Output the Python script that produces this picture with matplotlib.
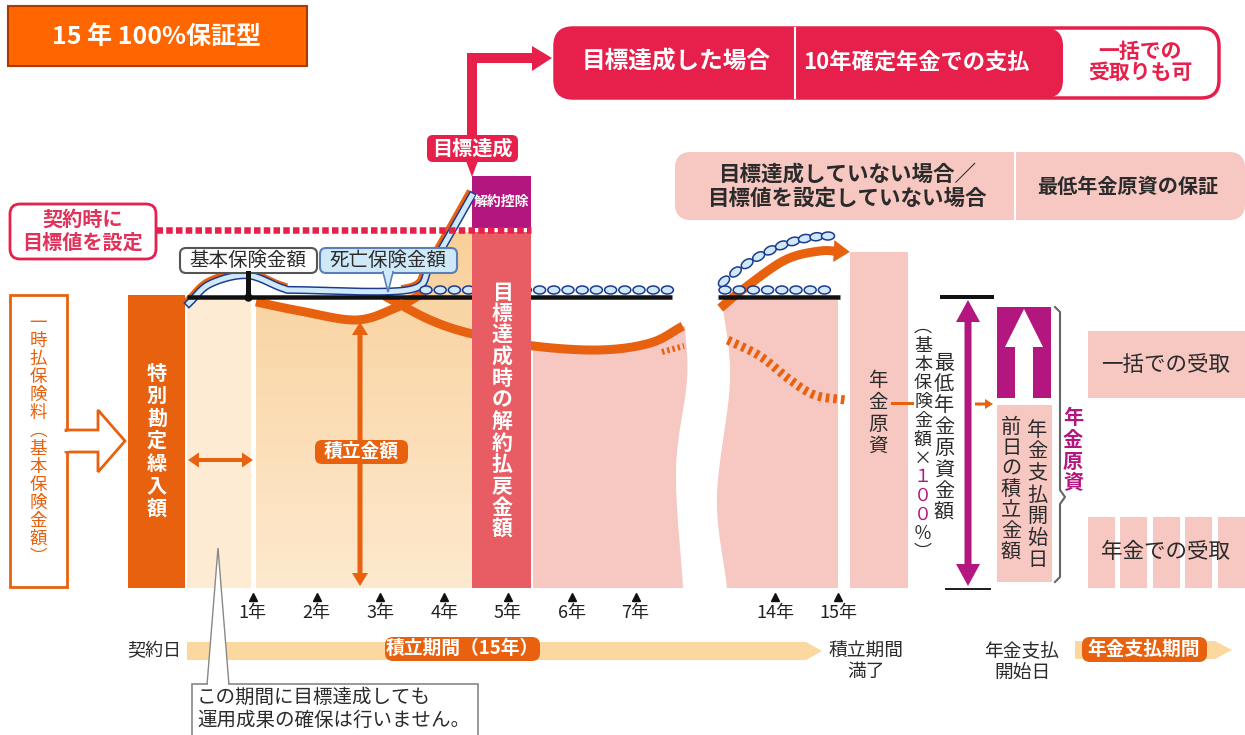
import numpy as np
import matplotlib
matplotlib.use("Agg")
import matplotlib.pyplot as plt
from matplotlib.patches import Rectangle, FancyBboxPatch, Polygon, Ellipse

plt.rcParams['font.family'] = ['Noto Sans CJK JP', 'DejaVu Sans']

# ---- data ----
title = "15 年 100%保証型"
tick_years = [1, 2, 3, 4, 5, 6, 7, 14, 15]
tick_labels = [f"{y}年" for y in tick_years]
target_pct = 123          # 目標値 (% of 基本保険金額)

# death benefit band (year, % of base)
death_yr = [0, 0.33, 0.91, 1.46, 1.74, 3.43, 3.77, 4.11, 4.43]
death_pct = [97.9, 104.5, 107.5, 103.1, 102.4, 102.4, 110.0, 122.3, 134.7]
# accumulation value, two schematic paths
acc_a_yr = [1.05, 1.74, 2.62, 3.23, 3.70]
acc_a_pct = [98.3, 95.2, 92.1, 96.2, 101.7]
acc_b_yr = [3.07, 3.78, 4.44, 5.39, 6.44, 7.23, 7.74]
acc_b_pct = [100.3, 92.1, 87.3, 83.2, 81.8, 84.2, 90.0]
# end of accumulation period
up_yr = [13.13, 13.52, 14.16, 14.71, 15.06]
up_pct = [96.2, 103.1, 112.7, 115.8, 115.5]
down_yr = [13.25, 13.76, 14.24, 14.63, 15.11]
down_pct = [85.2, 79.7, 71.5, 66.3, 64.6]

RED = '#E61F4B'
ORANGE = '#E8610F'
TITLE_OR = '#FF6600'
PINK = '#F7C7C1'
PEACH_L = '#FDEBD4'
PURPLE = '#B3177F'
NAVY = '#1D3A8F'
SKY = '#CFE9F8'
DARK = '#2B2B2B'
BAND = '#FBD89F'
COLRED = '#E85C63'
PT = 0.72  # points per pixel


def year_x(yr):
    yr = np.asarray(yr, float)
    return np.where(yr <= 10, 189 + 63.8 * yr, 838 - 63 * (15 - yr))


def pct_y(p):
    return 588 - 2.91 * np.asarray(p, float)


def smooth(xs, ys, n=16):
    pts = np.column_stack([xs, ys]).astype(float)
    p = np.vstack([2 * pts[0] - pts[1], pts, 2 * pts[-1] - pts[-2]])
    out = []
    for i in range(1, len(p) - 2):
        p0, p1, p2, p3 = p[i - 1], p[i], p[i + 1], p[i + 2]
        for t in np.linspace(0, 1, n, endpoint=False):
            out.append(0.5 * (2 * p1 + (-p0 + p2) * t + (2 * p0 - 5 * p1 + 4 * p2 - p3) * t * t
                              + (-p0 + 3 * p1 - 3 * p2 + p3) * t ** 3))
    out.append(pts[-1])
    out = np.array(out)
    return out[:, 0], out[:, 1]


fig = plt.figure(figsize=(12.45, 7.35), dpi=100)
ax = fig.add_axes([0, 0, 1, 1])
ax.set_xlim(0, 1245)
ax.set_ylim(735, 0)
ax.axis('off')


def box(x0, y0, x1, y1, fc, ec='none', lw=0, r=0, z=2):
    if r > 0:
        p = FancyBboxPatch((x0, y0), x1 - x0, y1 - y0, boxstyle=f"round,pad=0,rounding_size={r}",
                           fc=fc, ec=ec, lw=lw, zorder=z)
    else:
        p = Rectangle((x0, y0), x1 - x0, y1 - y0, fc=fc, ec=ec, lw=lw, zorder=z)
    ax.add_patch(p)
    return p


def txt(x, y, s, size, color=DARK, weight='normal', ha='center', va='center', z=12, ls=1.2):
    ax.text(x, y, s, fontsize=size, color=color, fontweight=weight, ha=ha, va=va,
            zorder=z, linespacing=ls)


def vtxt(x, y0, s, step, size, color=DARK, weight='normal', z=12, colors=None):
    for i, ch in enumerate(s):
        c = colors[i] if colors else color
        ax.text(x, y0 + i * step, ch, fontsize=size, color=c, fontweight=weight,
                ha='center', va='center', zorder=z)


def arrow_poly(x0, y0, x1, y1, w, hw, hl, head0=False):
    d = np.array([x1 - x0, y1 - y0], float)
    u = d / np.hypot(*d)
    n = np.array([-u[1], u[0]])
    a = np.array([x0, y0], float)
    b = np.array([x1, y1], float)
    pts = []
    if head0:
        pts += [a, a + u * hl + n * hw / 2, a + u * hl + n * w / 2]
    else:
        pts += [a + n * w / 2]
    pts += [b - u * hl + n * w / 2, b - u * hl + n * hw / 2, b,
            b - u * hl - n * hw / 2, b - u * hl - n * w / 2]
    if head0:
        pts += [a + u * hl - n * w / 2, a + u * hl - n * hw / 2]
    else:
        pts += [a - n * w / 2]
    return np.array(pts)


# ---- title ----
box(8, 6, 307, 66, TITLE_OR, ec='#A83C00', lw=1.5)
txt(157, 37, title, 18, 'white', 'bold')

# ---- top: target reached ----
box(555, 28, 1219, 98, 'white', ec=RED, lw=2.5, r=18, z=3)
box(555, 28, 1063, 98, RED, r=18, z=4)
ax.plot([795, 795], [28, 98], color='white', lw=1.5, zorder=5)
txt(676, 62, "目標達成した場合", 17, 'white', 'bold')
txt(916, 62, "10年確定年金での支払", 16, 'white', 'bold')
txt(1140, 62, "一括での\n受取りも可", 15, RED, 'bold', ls=1.05)

ax.plot([472, 472, 536], [136, 58, 58], color=RED, lw=10 * PT, solid_joinstyle='miter',
        solid_capstyle='butt', zorder=4)
ax.add_patch(Polygon([(532, 46), (552, 58), (532, 71)], fc=RED, ec='none', zorder=4))
box(427, 135, 518, 162, RED, r=6, z=5)
ax.add_patch(Polygon([(466, 161), (478, 161), (472, 177)], fc=RED, ec='none', zorder=5))
txt(472, 148, "目標達成", 14.5, 'white', 'bold')

box(472, 176, 531, 228, PURPLE, z=6)
txt(501, 202, "解約控除", 10, 'white', 'bold')

# ---- target line ----
ty = float(pct_y(target_pct))
ax.plot([156, 531], [ty, ty], color=RED, lw=6.5 * PT, dashes=(1.0, 0.5), zorder=9)
box(10, 204, 156, 259, 'white', ec=RED, lw=2, r=10, z=6)
txt(83, 231, "契約時に\n目標値を設定", 14.5, '#E0325A', 'bold', ls=1.1)

# ---- not reached ----
box(675, 152, 1245, 220, PINK, r=16, z=3)
ax.plot([1015, 1015], [152, 220], color='white', lw=1.5, zorder=4)
txt(848, 186, "目標達成していない場合／\n目標値を設定していない場合", 15.5, DARK, 'bold', ls=1.15)
txt(1128, 186, "最低年金原資の保証", 14.5, DARK, 'bold')

# ---- premium ----
box(10, 295, 67, 587, 'white', ec=ORANGE, lw=2, z=4)
ax.add_patch(Polygon([(66, 430), (98, 430), (98, 410), (125, 441), (98, 472), (98, 452), (66, 452)],
                     fc='white', ec=ORANGE, lw=2, zorder=4))
box(64, 431.5, 69, 450.5, 'white', z=5)
vtxt(38, 323, "一時払保険料︵基本保険金額︶", 18, 12.6, ORANGE)

box(128, 295, 185, 588, ORANGE, z=4)
vtxt(157, 373, "特別勘定繰入額", 22.5, 14.5, 'white', 'bold')

# ---- accumulation area ----
box(187, 300, 251, 588, PEACH_L, z=1)

dx, dy = smooth(year_x(death_yr), pct_y(death_pct))
ax_, ay_ = smooth(year_x(acc_a_yr), pct_y(acc_a_pct))
bx, by = smooth(year_x(acc_b_yr), pct_y(acc_b_pct))

band_sel = (dx >= 408) & (dy >= 232)
verts = [(256, 588), (472, 588), (472, 232)]
verts += list(zip(dx[band_sel][::-1], dy[band_sel][::-1]))
a_sel = ax_ <= 400
verts += list(zip(ax_[a_sel][::-1], ay_[a_sel][::-1]))
clip = Polygon(verts, fc='none', ec='none', transform=ax.transData)
ax.add_patch(clip)
grad = np.linspace(0, 1, 100)[:, None, None]
top_c = np.array([249, 208, 154]) / 255
bot_c = np.array([253, 233, 206]) / 255
img = top_c * (1 - grad) + bot_c * grad
im = ax.imshow(img, extent=(256, 472, 588, 232), aspect='auto', zorder=1, interpolation='bilinear')
im.set_clip_path(clip)

box(472, 232, 531, 588, COLRED, z=8.5)
vtxt(502, 292, "目標達成時の解約払戻金額", 21.6, 15, 'white', 'bold')

# pink area after target year (below curve B)
b_sel = bx >= 531
rx, ry = smooth([685, 687, 676, 683], [by[-1], 380, 470, 588])
verts = list(zip(bx[b_sel], by[b_sel])) + list(zip(rx, ry)) + [(533, 588)]
ax.add_patch(Polygon(verts, fc=PINK, ec='none', zorder=1))
lx, ly = smooth([722, 730, 717, 727], [300, 380, 497, 588])
verts = list(zip(lx, ly)) + [(838, 588), (838, 300)]
ax.add_patch(Polygon(verts, fc=PINK, ec='none', zorder=1))
box(850, 252, 908, 588, PINK, z=1)
vtxt(878, 380, "年金原資", 22, 14, DARK)

# accumulation curves
ax.plot(ax_, ay_, color=ORANGE, lw=9 * PT, zorder=5, solid_capstyle='butt')
ax.plot(bx, by, color=ORANGE, lw=9 * PT, zorder=3, solid_capstyle='butt')
ax.plot([662, 684], [352, 346], color=ORANGE, lw=6 * PT, dashes=(0.4, 0.5), zorder=3)

ux, uy = smooth(year_x(up_yr), pct_y(up_pct))
ax.plot(ux[:-3], uy[:-3], color=ORANGE, lw=9 * PT, zorder=5, solid_capstyle='butt')
ax.add_patch(Polygon(arrow_poly(ux[-8], uy[-8], ux[-1] + 8, uy[-1], 9, 22, 16),
                     fc=ORANGE, ec='none', zorder=5))
wx, wy = smooth(year_x(down_yr), pct_y(down_pct))
ax.plot(wx, wy, color=ORANGE, lw=9 * PT, dashes=(0.4, 0.45), zorder=5)

# death benefit band
o1 = dx <= 285
o2 = dx >= 405
ax.plot(dx[o1] - 1, dy[o1] - 3, color=ORANGE, lw=7 * PT, zorder=6)
ax.plot(dx[o2] - 3, dy[o2] - 2, color=ORANGE, lw=7 * PT, zorder=6)
ax.plot(dx, dy, color=NAVY, lw=8 * PT, zorder=6)
ax.plot(dx, dy, color=SKY, lw=5 * PT, zorder=6)

# base line and chains
base = float(pct_y(100))
ax.plot([187, 672], [base, base], color='#111', lw=4.5 * PT, solid_capstyle='butt', zorder=7)
ax.plot([718, 840], [base, base], color='#111', lw=4.5 * PT, solid_capstyle='butt', zorder=7)
for cx in list(np.arange(426, 672, 14.2)) + list(np.arange(725, 838, 14.2)):
    ax.add_patch(Ellipse((cx, base - 7), 12, 8, fc=SKY, ec=NAVY, lw=1.1, zorder=8))
cxs = np.linspace(724, 828, 10)
cys = 236 + 47 * ((830 - cxs) / 108) ** 2
for cx, cy in zip(cxs, cys):
    s = -2 * 47 * (830 - cx) / 108 ** 2
    ax.add_patch(Ellipse((cx, cy), 13, 8, angle=np.degrees(np.arctan(s)), fc=SKY, ec=NAVY,
                         lw=1.1, zorder=8))

# labels on top
box(180, 248, 317, 273, 'white', ec='#555555', lw=1.5, r=6, z=9)
txt(248, 260, "基本保険金額", 14, DARK)
ax.plot([248, 248], [273, 296], color='#111', lw=5 * PT, zorder=9)
ax.plot([248], [297], 'o', color='#111', ms=7 * PT, zorder=9)
box(320, 248, 457, 273, SKY, ec='#5A7FB8', lw=1.5, r=6, z=9)
ax.add_patch(Polygon([(383, 272), (393, 272), (388, 292)], fc=SKY, ec='#5A7FB8', lw=1.2, zorder=9))
box(384, 270.5, 392, 274, SKY, z=10)
txt(388, 260, "死亡保険金額", 14, DARK)

# arrows in accumulation area
ax.add_patch(Polygon(arrow_poly(188, 460, 253, 460, 4, 15, 11, head0=True), fc=ORANGE, ec='none', zorder=6))
ax.add_patch(Polygon(arrow_poly(360, 322, 360, 586, 5, 16, 13, head0=True), fc=ORANGE, ec='none', zorder=6))
box(315, 440, 408, 464, ORANGE, r=7, z=7)
txt(361, 451, "積立金額", 13.5, 'white', 'bold')

# ---- pension resource ----
ax.add_patch(Polygon(arrow_poly(968, 300, 968, 586, 7, 24, 22, head0=True), fc=PURPLE, ec='none', zorder=6))
ax.plot([942, 992], [297, 297], color='#111', lw=4 * PT, zorder=7)
ax.plot([946, 990], [589, 589], color='#222', lw=2 * PT, zorder=7)
vtxt(944, 363, "最低年金原資金額", 21.4, 14.5, DARK)
vtxt(923, 327, "︵基本保険金額×１００％︶", 18.8, 13,
     colors=[DARK] * 8 + [PURPLE] * 3 + [DARK] * 2)
ax.plot([892, 912], [403, 403], color=ORANGE, lw=3 * PT, zorder=6)
ax.add_patch(Polygon(arrow_poly(975, 404, 993, 404, 3, 10, 8), fc=ORANGE, ec='none', zorder=6))

box(997, 307, 1051, 398, PURPLE, z=4)
ax.add_patch(Polygon([(1024, 309), (1043, 347), (1033, 347), (1033, 398), (1015, 398), (1015, 347),
                      (1005, 347)], fc='white', ec='none', zorder=5))
box(997, 405, 1052, 582, PINK, z=4)
vtxt(1037, 430, "年金支払開始日", 21.7, 14.5, DARK)
vtxt(1011, 427, "前日の積立金額", 21, 14.5, DARK)
ax.plot([1055, 1060, 1060, 1065, 1060, 1060, 1055], [307, 312, 490, 497, 504, 577, 582],
        color='#666666', lw=1.5, zorder=6)
vtxt(1073, 417, "年金原資", 22, 14.5, PURPLE, 'bold')

box(1088, 331, 1245, 398, PINK, z=2)
txt(1166, 365, "一括での受取", 15.5, DARK)
for x0 in [1088, 1120, 1153, 1185, 1218]:
    box(x0, 517, x0 + 27, 588, PINK, z=2)
txt(1166, 552, "年金での受取", 15.5, DARK)

# ---- year ticks ----
for yr, lab in zip(tick_years, tick_labels):
    x = float(year_x(yr))
    ax.plot([x], [597], marker='^', ms=5.5, color='#111', zorder=8)
    txt(x, 613, lab, 13, '#222')

# ---- timeline ----
txt(181, 651, "契約日", 13, DARK, ha='right')
ax.add_patch(Polygon([(187, 642), (806, 642), (822, 651), (806, 660), (187, 660)], fc=BAND, ec='none', zorder=2))
box(385, 637, 540, 661, ORANGE, r=8, z=3)
txt(462, 648, "積立期間（15年）", 13.5, 'white', 'bold')
txt(866, 661, "積立期間\n満了", 13.5, DARK, ls=1.05)
txt(1022, 662, "年金支払\n開始日", 13.5, DARK, ls=1.05)
ax.add_patch(Polygon([(1075, 641), (1215, 641), (1232, 650), (1215, 659), (1075, 659)], fc=BAND, ec='none', zorder=2))
box(1082, 637, 1207, 662, ORANGE, r=8, z=3)
txt(1144, 649, "年金支払期間", 13.5, 'white', 'bold')

# ---- callout ----
ax.add_patch(Polygon([(218, 548), (207, 685), (229, 685)], fc='white', ec='#888888', lw=1, zorder=10))
box(192, 684, 478, 745, 'white', ec='#888888', lw=1.2, z=10)
box(208, 683, 228, 687, 'white', z=11)
txt(197, 697, "この期間に目標達成しても", 14, DARK, ha='left')
txt(197, 720, "運用成果の確保は行いません。", 14, DARK, ha='left')

fig.savefig("out.png", dpi=100)
